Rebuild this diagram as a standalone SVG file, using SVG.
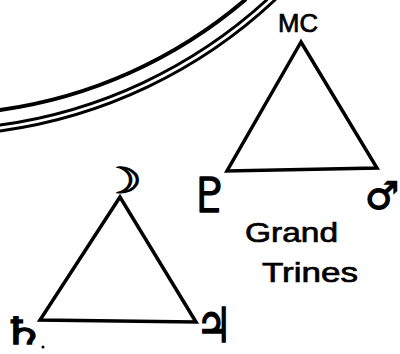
<svg xmlns="http://www.w3.org/2000/svg" width="400" height="354" viewBox="0 0 400 354">
<style>
.arc{fill:none;stroke:#000;stroke-linecap:round}
.edge{fill:none;stroke:#000;stroke-width:3.5;stroke-linejoin:miter;stroke-linecap:round}
.lbl{font-family:"Liberation Sans","DejaVu Sans",sans-serif;fill:#000;stroke:#000;stroke-width:0.7}
.sym{font-family:"DejaVu Sans",sans-serif;fill:#000;stroke:#000;stroke-width:1.2;text-anchor:middle}
</style>
<rect width="400" height="354" fill="#fff"/>
<g id="chart-rim">
<path class="arc" stroke-width="4" d="M0 110 A480 480 0 0 0 245 0"/>
<path class="arc" stroke-width="3" d="M0 125 A495 495 0 0 0 266.7 0"/>
<path class="arc" stroke-width="3" d="M0 131 A501 501 0 0 0 275 0"/>
</g>
<g id="connectors">
<path class="edge" d="M301 42 L227 171 L377 168 Z"/>
<path class="edge" d="M120 197 L40 320 L196 322 Z"/>
</g>
<g id="node-mc"><text class="lbl" x="278" y="32" font-size="25" textLength="40" lengthAdjust="spacingAndGlyphs">MC</text></g>
<g id="node-pluto"><text class="sym" x="210" y="212" font-size="48">♇</text></g>
<g id="node-mars"><text class="sym" x="382" y="209" font-size="38">♂</text></g>
<g id="node-moon"><text class="sym" transform="translate(121,193) scale(1.3,1)" font-size="36">☽</text></g>
<g id="node-saturn"><text class="sym" transform="translate(23,344) scale(1.5,1.1)" font-size="34">♄</text><circle cx="43" cy="347" r="1.5"/></g>
<g id="node-jupiter"><text class="sym" transform="translate(214,342) scale(1,1.2)" font-size="40">♃</text></g>
<g id="title">
<text class="lbl" x="245" y="242" font-size="28" textLength="93" lengthAdjust="spacingAndGlyphs">Grand</text>
<text class="lbl" x="262" y="282" font-size="28" textLength="96" lengthAdjust="spacingAndGlyphs">Trines</text>
</g>
</svg>
